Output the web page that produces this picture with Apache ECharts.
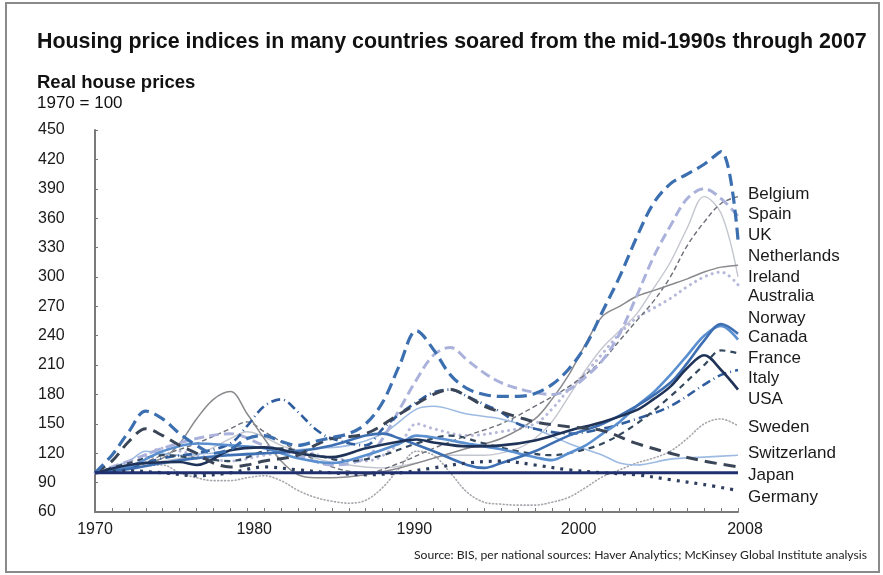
<!DOCTYPE html>
<html>
<head>
<meta charset="utf-8">
<script src="https://cdn.jsdelivr.net/npm/echarts@6/dist/echarts.min.js"></script>
<style>
  html, body { margin: 0; padding: 0; background: #fff; }
  #chart { width: 883px; height: 575px; }
</style>
</head>
<body>
<div id="chart"></div>
<script>
// Real house prices, 1970 = 100, [year, index] pairs per country
const belgium = [[1970,100],[1972,105],[1974,118],[1976,130],[1978,145],[1979,152],[1980,142],[1982,122],[1984,106],[1986,100],[1988,110],[1990,125],[1992,138],[1994,150],[1996,168],[1998,188],[2000,215],[2001,235],[2002,255],[2003,275],[2004,300],[2005,332],[2006,356],[2007,375],[2008,382]];
const spain = [[1970,100],[1972,112],[1974,125],[1976,135],[1978,140],[1980,128],[1982,118],[1984,108],[1986,115],[1987,135],[1988,165],[1989,195],[1990,220],[1991,228],[1992,215],[1993,202],[1994,192],[1995,186],[1996,182],[1997,180],[1998,185],[1999,198],[2000,215],[2001,242],[2002,280],[2003,320],[2004,352],[2005,380],[2006,390],[2007,380],[2008,362]];
const uk = [[1970,100],[1971,118],[1972,142],[1973,163],[1974,155],[1975,140],[1976,128],[1977,120],[1978,124],[1979,135],[1980,138],[1981,132],[1982,128],[1983,132],[1984,136],[1985,140],[1986,150],[1987,172],[1988,210],[1989,245],[1990,226],[1991,200],[1992,186],[1993,180],[1994,178],[1995,178],[1996,181],[1997,190],[1998,206],[1999,230],[2000,265],[2001,300],[2002,340],[2003,375],[2004,395],[2005,405],[2006,415],[2007,428],[2008,338]];
const netherlands = [[1970,100],[1972,106],[1974,115],[1975,130],[1976,155],[1977,175],[1978,183],[1979,160],[1980,135],[1981,112],[1982,98],[1983,95],[1984,95],[1986,98],[1988,105],[1990,115],[1992,125],[1994,135],[1996,155],[1997,175],[1998,200],[1999,232],[2000,260],[2001,270],[2002,280],[2003,286],[2004,292],[2005,298],[2006,305],[2007,310],[2008,312]];
const ireland = [[1970,100],[1972,104],[1974,112],[1976,118],[1978,135],[1979,142],[1981,128],[1983,115],[1985,108],[1987,105],[1989,110],[1991,118],[1993,118],[1995,125],[1996,135],[1997,152],[1998,178],[1999,205],[2000,228],[2001,245],[2002,262],[2003,288],[2004,315],[2005,350],[2006,382],[2007,365],[2008,300]];
const australia = [[1970,100],[1972,105],[1974,125],[1976,118],[1978,112],[1980,118],[1982,122],[1984,115],[1986,112],[1988,130],[1989,150],[1990,145],[1992,138],[1994,142],[1996,150],[1997,165],[1998,185],[1999,202],[2000,222],[2001,242],[2002,258],[2003,268],[2004,278],[2005,290],[2006,300],[2007,305],[2008,292]];
const norway = [[1970,100],[1972,104],[1974,110],[1976,115],[1978,118],[1980,120],[1982,122],[1984,128],[1986,138],[1987,140],[1988,135],[1990,122],[1992,108],[1993,105],[1994,110],[1996,122],[1998,138],[2000,150],[2002,168],[2004,192],[2005,212],[2006,235],[2007,252],[2008,242]];
const canada = [[1970,100],[1972,106],[1974,122],[1976,130],[1978,128],[1980,125],[1982,115],[1984,110],[1986,118],[1988,130],[1989,138],[1990,136],[1992,130],[1994,124],[1996,116],[1997,113],[1998,120],[1999,128],[2000,140],[2001,152],[2002,168],[2003,182],[2004,200],[2005,220],[2006,240],[2007,250],[2008,236]];
const france = [[1970,100],[1972,110],[1974,118],[1976,115],[1978,112],[1980,122],[1981,125],[1983,118],[1985,112],[1987,118],[1989,130],[1991,138],[1993,130],[1995,122],[1997,118],[1998,120],[2000,130],[2002,150],[2004,178],[2006,210],[2007,225],[2008,222]];
const italy = [[1970,100],[1972,105],[1974,115],[1976,120],[1978,130],[1979,148],[1980,168],[1981,175],[1982,162],[1983,145],[1984,135],[1986,128],[1987,145],[1988,160],[1989,172],[1990,182],[1991,185],[1992,178],[1993,170],[1994,162],[1995,150],[1996,145],[1998,140],[2000,145],[2002,155],[2004,168],[2006,190],[2007,200],[2008,205]];
const usa = [[1970,100],[1972,108],[1973,110],[1975,111],[1976,108],[1978,123],[1980,126],[1982,120],[1984,116],[1986,125],[1988,132],[1989,134],[1990,131],[1992,127],[1994,128],[1996,133],[1998,143],[2000,152],[2002,164],[2003,175],[2004,188],[2005,207],[2006,220],[2007,205],[2008,185]];
const sweden = [[1970,100],[1972,105],[1974,108],[1975,100],[1976,95],[1977,92],[1978,92],[1979,95],[1980,97],[1981,92],[1982,82],[1983,75],[1984,71],[1985,69],[1986,72],[1987,85],[1988,105],[1989,122],[1990,118],[1991,100],[1992,80],[1993,70],[1994,68],[1995,67],[1996,67],[1997,70],[1998,75],[1999,85],[2000,96],[2001,103],[2002,110],[2003,115],[2004,122],[2005,135],[2006,150],[2007,155],[2008,148]];
const switzerland = [[1970,100],[1972,112],[1973,122],[1975,118],[1977,120],[1979,118],[1981,122],[1983,125],[1985,128],[1987,140],[1989,165],[1990,168],[1992,160],[1994,155],[1996,145],[1998,130],[2000,118],[2001,110],[2002,108],[2004,114],[2006,116],[2008,118]];
const japan = [[1970,100],[1971,112],[1972,132],[1973,145],[1974,138],[1975,128],[1976,120],[1977,110],[1978,106],[1979,108],[1980,112],[1982,118],[1983,128],[1984,135],[1986,140],[1988,160],[1990,180],[1991,185],[1992,178],[1993,168],[1994,162],[1995,157],[1996,152],[1998,147],[2000,143],[2002,130],[2004,120],[2006,112],[2008,106]];
const germany = [[1970,100],[1972,102],[1974,100],[1976,97],[1978,100],[1980,106],[1982,103],[1984,100],[1986,98],[1988,100],[1990,105],[1992,110],[1994,112],[1996,108],[1998,103],[2000,100],[2002,98],[2004,93],[2006,88],[2008,82]];
const baseline = [[1970,100],[2008,100]];

// Country names listed down the right edge, top to bottom, with the index level each sits at
const countries = ['Belgium','Spain','UK','Netherlands','Ireland','Australia','Norway','Canada','France','Italy','USA','Sweden','Switzerland','Japan','Germany'];
const labelLevels = [384,364,342,321,300,280,258,238,217,196,175,146,120,97,75];

const yTicks = { min: 60, max: 450, step: 30 };
const xLabelYears = [1970, 1980, 1990, 2000, 2008];

const FONT = '"Liberation Sans", Arial, sans-serif';

function line(name, data, color, width, type, cap) {
  return {
    name, type: 'line', data, smooth: 0.35, showSymbol: false, symbol: 'none',
    silent: true, animation: false,
    lineStyle: { color, width, type: type || 'solid', cap: cap || 'butt', join: 'round' }
  };
}

const chart = echarts.init(document.getElementById('chart'), null, { renderer: 'canvas' });

const series = [
  line('Sweden', sweden, '#a7a7ad', 1.6, [1, 2.5], 'round'),
  line('Ireland', ireland, '#c3c6cf', 1.4),
  line('Australia', australia, '#b7b9da', 3, [0.1, 6], 'round'),
  line('Belgium', belgium, '#6d7078', 1.4, [5, 3]),
  line('Netherlands', netherlands, '#8a8a8e', 1.5),
  line('Switzerland', switzerland, '#9dbbe2', 1.6),
  line('Spain', spain, '#aab2dc', 3, [10, 5]),
  line('Italy', italy, '#2f5d9e', 2.6, [9, 4, 1, 4]),
  line('France', france, '#34485e', 2.2, [6, 5]),
  line('Canada', canada, '#5a8fd0', 2.6),
  line('Norway', norway, '#3d6fb2', 2.6),
  line('USA', usa, '#1f3358', 2.6),
  line('Japan', japan, '#3a4657', 3, [12, 7]),
  line('UK', uk, '#3b6fb0', 3.2, [12, 6]),
  line('Germany', germany, '#2f3e5e', 3.2, [3, 6]),
  line('Base', baseline, '#20306e', 3)
];

// Year labels sit slightly off their ticks; the right padding nudges each one left
const yearRich = {
  y1970: { padding: [0, 0, 0, 0] },
  y1980: { padding: [0, 20, 0, 0] },
  y1990: { padding: [0, 38, 0, 0] },
  y2000: { padding: [0, 48, 0, 0] },
  y2008: { padding: [0, 0, 0, 14] }
};
Object.values(yearRich).forEach(s => { s.fontSize = 16; s.fontFamily = FONT; s.color = '#1a1a1a'; });

chart.setOption({
  backgroundColor: '#ffffff',
  animation: false,
  grid: { left: 95, right: 145, top: 130, bottom: 63, containLabel: false },
  xAxis: {
    type: 'value', min: 1970, max: 2008, interval: 1,
    axisLine: { show: true, lineStyle: { color: '#7a7a7a', width: 2 } },
    axisTick: { show: true, inside: true, length: 4, lineStyle: { color: '#7a7a7a', width: 1 } },
    splitLine: { show: false },
    axisLabel: {
      color: '#1a1a1a', fontSize: 16, fontFamily: FONT, margin: 10,
      showMinLabel: true, showMaxLabel: true,
      formatter: v => xLabelYears.includes(v) ? '{y' + v + '|' + v + '}' : '',
      rich: yearRich
    }
  },
  yAxis: {
    type: 'value', min: yTicks.min, max: yTicks.max, interval: yTicks.step,
    axisLine: { show: true, lineStyle: { color: '#7a7a7a', width: 2 } },
    axisTick: { show: true, inside: true, length: 3, lineStyle: { color: '#7a7a7a', width: 1 } },
    splitLine: { show: false },
    axisLabel: { color: '#1a1a1a', fontSize: 16, fontFamily: FONT, margin: 57, align: 'left' }
  },
  series
});

// Right-hand country names, frame and headings
const graphics = [
  { type: 'rect', shape: { x: 6, y: 3, width: 873, height: 569 }, style: { fill: 'none', stroke: '#8a8a8a', lineWidth: 2 }, silent: true },
  { type: 'text', left: 37, top: 32, style: { text: 'Housing price indices in many countries soared from the mid-1990s through 2007', fill: '#111', font: 'bold 21.4px ' + FONT } },
  { type: 'text', left: 37, top: 73, style: { text: 'Real house prices', fill: '#111', font: 'bold 18.5px ' + FONT } },
  { type: 'text', left: 37, top: 95, style: { text: '1970 = 100', fill: '#111', font: '17px ' + FONT } },
  { type: 'text', right: 16, top: 549, style: { text: 'Source: BIS, per national sources: Haver Analytics; McKinsey Global Institute analysis', fill: '#222', font: '12.2px Lato, "Open Sans", sans-serif' } }
];
countries.forEach((name, i) => {
  const p = chart.convertToPixel({ gridIndex: 0 }, [2008, labelLevels[i]]);
  graphics.push({
    type: 'text', x: p[0] + 10, y: p[1],
    style: { text: name, fill: '#1a1a1a', font: '17px ' + FONT, textVerticalAlign: 'middle' }
  });
});
chart.setOption({ graphic: graphics });
</script>
</body>
</html>
